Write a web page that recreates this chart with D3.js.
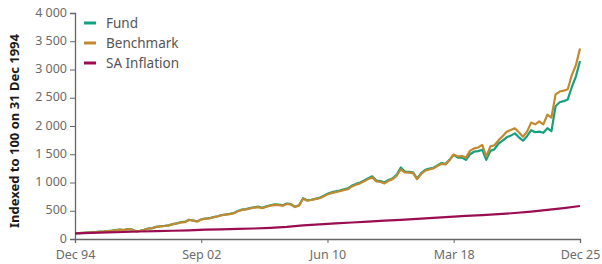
<!DOCTYPE html>
<html>
<head>
<meta charset="utf-8">
<script src="https://cdn.jsdelivr.net/npm/d3@7"></script>
<style>
  body { margin: 0; background: #fff; }
  text { font-family: "Noto Sans", sans-serif; }
</style>
</head>
<body>
<div class="d3-chart"></div>
<script>
// quarterly index values, Dec 94 .. Dec 25
const fund = [100,
  104, 109, 115, 119,   124, 129, 133, 141,   147, 156, 166, 159,   176, 166, 136, 146,
  161, 186, 192, 216,   226, 231, 242, 264,   277, 297, 302, 340,   327, 312, 347, 362,
  368, 388, 403, 424,   434, 445, 460, 495,   520, 530, 546, 561,   572, 552, 577, 598,
  613, 608, 598, 628,   618, 572, 598, 722,   685, 695, 712, 728,   760, 800, 825, 842,
  858, 880, 895, 945,   975, 1000, 1035, 1075, 1110, 1035, 1025, 1000, 1045, 1075, 1140, 1265,
  1195, 1190, 1180, 1070, 1165, 1225, 1245, 1262, 1300, 1345, 1330, 1405, 1490, 1440, 1440, 1400,
  1500, 1545, 1555, 1580, 1400, 1560, 1590, 1690, 1740, 1800, 1830, 1870, 1800, 1740, 1820, 1925,
  1890, 1900, 1880, 1960, 1910, 2350, 2420, 2440, 2470, 2690, 2880, 3150];

const benchmark = [100,
  104, 110, 115, 118,   124, 128, 132, 140,   146, 155, 165, 158,   175, 165, 135, 145,
  160, 185, 190, 215,   225, 230, 240, 262,   275, 295, 300, 338,   325, 310, 345, 360,
  365, 385, 400, 420,   430, 440, 455, 490,   515, 525, 540, 555,   565, 545, 570, 590,
  605, 600, 590, 620,   610, 565, 590, 712,   680, 690, 705, 722,   750, 790, 812, 830,
  845, 865, 880, 930,   960, 985, 1020, 1060,  1090, 1020, 1010, 985,  1030, 1060, 1120, 1230,
  1180, 1175, 1165, 1060, 1150, 1210, 1230, 1250, 1290, 1330, 1320, 1400, 1495, 1460, 1470, 1440,
  1560, 1605, 1620, 1665, 1460, 1640, 1660, 1750, 1820, 1900, 1930, 1960, 1890, 1810, 1900, 2060,
  2030, 2080, 2030, 2200, 2150, 2560, 2610, 2625, 2650, 2900, 3080, 3370];

// yearly (December) values, 1994 .. 2025
const inflation = [100, 108, 116, 124, 133, 139, 146, 153, 166, 172, 178, 186, 198, 214, 240, 258,
  276, 292, 308, 324, 340, 356, 374, 392, 408, 424, 440, 460, 485, 515, 548, 584];

const xTickLabels = ["Dec 94", "Sep 02", "Jun 10", "Mar 18", "Dec 25"];
const yTicks = [0, 500, 1000, 1500, 2000, 2500, 3000, 3500, 4000];

const series = [
  {name: "Fund", color: "#15a07f", values: fund, step: 3},
  {name: "Benchmark", color: "#c28a30", values: benchmark, step: 3},
  {name: "SA Inflation", color: "#9b0d52", values: inflation, step: 12}
];

const width = 602, height = 264;
const margin = {top: 13, right: 22, bottom: 25, left: 75};

const svg = d3.select(".d3-chart")
  .append("svg")
  .attr("width", width)
  .attr("height", height);

const start = new Date(1994, 11, 1);
const x = d3.scaleTime()
  .domain([start, new Date(2025, 11, 1)])
  .range([margin.left, width - margin.right]);

const y = d3.scaleLinear()
  .domain([0, 4000])
  .range([height - margin.bottom, margin.top]);

const parseTick = d3.timeParse("%b %y");
const fmt = d3.formatLocale({decimal: ".", thousands: " ", grouping: [3], currency: ["", ""]}).format(",");

// axes
const xAxis = svg.append("g")
  .attr("transform", `translate(0,${height - margin.bottom})`)
  .call(d3.axisBottom(x)
    .tickValues(xTickLabels.map(parseTick))
    .tickFormat(d3.timeFormat("%b %y"))
    .tickSizeOuter(0)
    .tickSize(4)
    .tickPadding(7));

const yAxis = svg.append("g")
  .attr("transform", `translate(${margin.left},0)`)
  .call(d3.axisLeft(y)
    .tickValues(yTicks)
    .tickFormat(fmt)
    .tickSizeOuter(0)
    .tickSize(5)
    .tickPadding(3));

for (const g of [xAxis, yAxis]) {
  g.selectAll(".domain").attr("stroke", "#666").attr("stroke-width", 1.3);
  g.selectAll(".tick line").attr("stroke", "#666");
  g.selectAll(".tick text").attr("fill", "#6b6b6b").attr("font-size", 12.5);
}
yAxis.selectAll(".tick text").attr("dy", "0.25em");

svg.append("text")
  .attr("transform", `translate(19,${(margin.top + height - margin.bottom) / 2 + 5}) rotate(-90)`)
  .attr("text-anchor", "middle")
  .attr("font-size", 13)
  .attr("font-weight", "bold")
  .attr("fill", "#1a1a1a")
  .text("Indexed to 100 on 31 Dec 1994");

// lines
const line = d3.line()
  .x(d => x(d.date))
  .y(d => y(d.value));

for (const s of series) {
  const pts = s.values.map((v, i) => ({date: d3.timeMonth.offset(start, i * s.step), value: v}));
  svg.append("path")
    .datum(pts)
    .attr("fill", "none")
    .attr("stroke", s.color)
    .attr("stroke-width", 2.2)
    .attr("stroke-linejoin", "round")
    .attr("d", line);
}

// legend
const legend = svg.append("g")
  .selectAll("g")
  .data(series)
  .join("g")
  .attr("transform", (d, i) => `translate(84,${23 + i * 20})`);

legend.append("line")
  .attr("x1", 0).attr("x2", 12)
  .attr("stroke", d => d.color)
  .attr("stroke-width", 3);

legend.append("text")
  .attr("x", 22)
  .attr("dy", "0.35em")
  .attr("font-size", 13.5)
  .attr("fill", "#555")
  .text(d => d.name);
</script>
</body>
</html>
